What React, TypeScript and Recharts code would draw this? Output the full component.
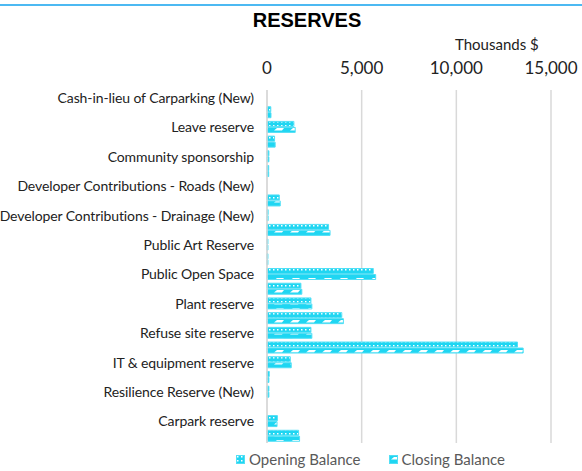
import React from "react"
import { Bar, BarChart, CartesianGrid, Legend, XAxis, YAxis } from "recharts"

// 24 reserves; Excel only labels every other one, so odd rows go unlabelled
const reserves = [
  "Cash-in-lieu of Carparking (New)",
  "Aquatic Centre Reserve",
  "Leave reserve",
  "Asset Renewal Reserve",
  "Community sponsorship",
  "Election Reserve",
  "Developer Contributions - Roads (New)",
  "Environmental Reserve",
  "Developer Contributions - Drainage (New)",
  "Land Acquisition Reserve",
  "Public Art Reserve",
  "Heritage Reserve",
  "Public Open Space",
  "Road Infrastructure Reserve",
  "Plant reserve",
  "Building Reserve",
  "Refuse site reserve",
  "Waste Management Reserve",
  "IT & equipment reserve",
  "Library Reserve",
  "Resilience Reserve (New)",
  "Footpath Reserve (New)",
  "Carpark reserve",
  "Drainage Reserve",
]

const openingBalance = [0, 200, 1420, 400, 100, 90, 0, 650, 60, 3250, 50, 50, 5615, 1790, 2320, 3950, 2320, 13230, 1230, 120, 100, 0, 550, 1670]
const closingBalance = [0, 210, 1490, 430, 100, 90, 0, 700, 60, 3330, 50, 50, 5740, 1840, 2370, 4035, 2370, 13530, 1280, 100, 100, 0, 530, 1720]

const xTicks = [0, 5000, 10000, 15000]

const data = reserves.map((name, i) => ({
  name,
  opening: openingBalance[i],
  closing: closingBalance[i],
}))

const CYAN = "#1fd6f2"
const EDGE = "#52dff5"
const labelFont = "Lato, 'Open Sans', sans-serif"

const CategoryTick = ({ x, y, payload }: any) => (
  <text
    x={x}
    y={y}
    textAnchor="end"
    dominantBaseline="central"
    fill="#222"
    fontSize={14}
    letterSpacing={-0.1}
    fontFamily={labelFont}
  >
    {payload.value}
  </text>
)

const LegendContent = () => (
  <div
    style={{
      display: "flex",
      alignItems: "center",
      gap: 28,
      paddingTop: 7,
      paddingLeft: 236,
      fontFamily: labelFont,
      fontSize: 15,
      color: "#595959",
    }}
  >
    {[
      { label: "Opening Balance", fill: "url(#patOpening)" },
      { label: "Closing Balance", fill: "url(#patClosing)" },
    ].map((item) => (
      <div key={item.label} style={{ display: "flex", alignItems: "center", gap: 4 }}>
        <svg width={9} height={9}>
          <rect x={0.5} y={0.5} width={8} height={8} fill={item.fill} stroke={EDGE} />
        </svg>
        <span>{item.label}</span>
      </div>
    ))}
  </div>
)

export default function App() {
  return (
    <div style={{ position: "absolute", left: 0, top: 0, width: 582, height: 471, background: "#fff" }}>
      <div style={{ position: "absolute", left: 0, top: 4, width: 582, height: 2, background: "#4cb9f2" }} />
      <div
        style={{
          position: "absolute",
          left: 0,
          width: 614,
          top: 9,
          textAlign: "center",
          fontFamily: "'Liberation Sans', Arial, sans-serif",
          fontWeight: "bold",
          fontSize: 20,
          color: "#000",
        }}
      >
        RESERVES
      </div>
      <div
        style={{
          position: "absolute",
          left: 455,
          top: 35,
          fontFamily: labelFont,
          fontSize: 15,
          color: "#222",
        }}
      >
        Thousands $
      </div>
      <BarChart
        width={582}
        height={471}
        data={data}
        layout="vertical"
        margin={{ top: 65, right: 31, left: 0, bottom: 0 }}
        barSize={5}
        barGap={1}
      >
        <defs>
          <pattern id="patOpening" width={4} height={4} patternUnits="userSpaceOnUse">
            <rect width={4} height={4} fill={CYAN} />
            <rect x={1} y={1} width={1.5} height={1.5} fill="#fff" />
          </pattern>
          <pattern id="patClosing" width={16} height={6} patternUnits="userSpaceOnUse">
            <rect width={16} height={6} fill={CYAN} />
            <polygon points="2,4.5 10,4.5 12,2 5,2" fill="#fff" />
          </pattern>
        </defs>
        <CartesianGrid horizontal={false} stroke="#d9d9d9" strokeWidth={1.5} />
        <XAxis
          type="number"
          orientation="top"
          domain={[0, 15000]}
          ticks={xTicks}
          tickFormatter={(v) => Number(v).toLocaleString("en-US")}
          axisLine={false}
          tickLine={false}
          tickSize={0}
          tickMargin={16}
          height={25}
          tick={{ fill: "#222", fontSize: 17, fontFamily: labelFont }}
        />
        <YAxis
          type="category"
          dataKey="name"
          interval={1}
          width={267}
          axisLine={{ stroke: "#d9d9d9", strokeWidth: 1.5 }}
          tickLine={false}
          tickSize={0}
          tickMargin={13}
          tick={<CategoryTick />}
        />
        <Legend verticalAlign="bottom" height={28} content={<LegendContent />} />
        <Bar dataKey="opening" name="Opening Balance" fill="url(#patOpening)" stroke={EDGE} strokeWidth={1} isAnimationActive={false} />
        <Bar dataKey="closing" name="Closing Balance" fill="url(#patClosing)" stroke={EDGE} strokeWidth={1} isAnimationActive={false} />
      </BarChart>
    </div>
  )
}
